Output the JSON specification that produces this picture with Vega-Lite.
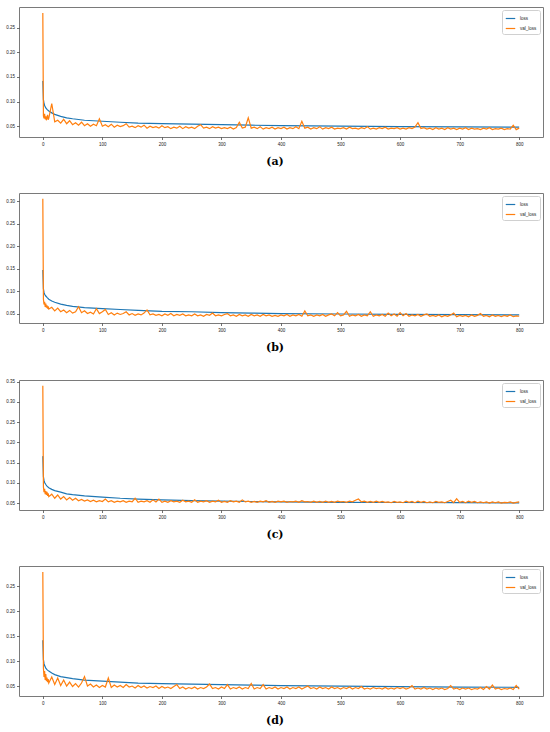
{
  "$schema": "https://vega.github.io/schema/vega-lite/v6.json",
  "padding": {"left": 5, "top": 6, "right": 5, "bottom": 2},
  "background": "white",
  "datasets": {
    "la": [
      {"e":0,"v":0.142},{"e":1,"v":0.104},{"e":2,"v":0.096},{"e":3,"v":0.092},{"e":5,"v":0.087},{"e":7,"v":0.084},{"e":10,"v":0.081},{"e":15,"v":0.077},{"e":20,"v":0.074},{"e":30,"v":0.070},{"e":40,"v":0.067},{"e":50,"v":0.065},{"e":70,"v":0.062},{"e":100,"v":0.060},{"e":130,"v":0.058},{"e":160,"v":0.056},{"e":200,"v":0.055},{"e":250,"v":0.054},{"e":300,"v":0.053},{"e":350,"v":0.052},{"e":400,"v":0.051},{"e":500,"v":0.050},{"e":600,"v":0.049},{"e":700,"v":0.0485},{"e":800,"v":0.048}
    ],
    "va": [
      {"e":0,"v":0.280},{"e":1,"v":0.071},{"e":2,"v":0.066},{"e":3,"v":0.075},{"e":4,"v":0.064},{"e":5,"v":0.070},{"e":6,"v":0.062},{"e":7,"v":0.068},{"e":8,"v":0.073},{"e":9,"v":0.063},
      {"e":10,"v":0.066},{"e":15,"v":0.096},{"e":20,"v":0.059},{"e":25,"v":0.062},{"e":30,"v":0.056},{"e":35,"v":0.064},{"e":40,"v":0.055},{"e":45,"v":0.061},{"e":50,"v":0.053},{"e":55,"v":0.057},{"e":60,"v":0.052},{"e":65,"v":0.058},{"e":70,"v":0.051},{"e":75,"v":0.055},{"e":80,"v":0.050},{"e":85,"v":0.054},{"e":90,"v":0.051},{"e":95,"v":0.065},{"e":100,"v":0.050},
      {"e":105,"v":0.053},{"e":110,"v":0.049},{"e":115,"v":0.054},{"e":120,"v":0.048},{"e":125,"v":0.052},{"e":130,"v":0.049},{"e":135,"v":0.051},{"e":140,"v":0.055},{"e":145,"v":0.048},{"e":150,"v":0.050},{"e":155,"v":0.047},{"e":160,"v":0.051},{"e":165,"v":0.048},{"e":170,"v":0.052},{"e":175,"v":0.046},{"e":180,"v":0.050},{"e":185,"v":0.047},{"e":190,"v":0.049},{"e":195,"v":0.046},{"e":200,"v":0.051},
      {"e":205,"v":0.047},{"e":210,"v":0.049},{"e":215,"v":0.045},{"e":220,"v":0.048},{"e":225,"v":0.046},{"e":230,"v":0.050},{"e":235,"v":0.045},{"e":240,"v":0.049},{"e":245,"v":0.046},{"e":250,"v":0.048},{"e":255,"v":0.045},{"e":260,"v":0.050},{"e":265,"v":0.053},{"e":270,"v":0.046},{"e":275,"v":0.048},{"e":280,"v":0.045},{"e":285,"v":0.049},{"e":290,"v":0.046},{"e":295,"v":0.048},{"e":300,"v":0.045},
      {"e":305,"v":0.047},{"e":310,"v":0.045},{"e":315,"v":0.048},{"e":320,"v":0.044},{"e":325,"v":0.047},{"e":330,"v":0.058},{"e":335,"v":0.046},{"e":340,"v":0.048},{"e":345,"v":0.067},{"e":350,"v":0.046},{"e":355,"v":0.048},{"e":360,"v":0.045},{"e":365,"v":0.049},{"e":370,"v":0.044},{"e":375,"v":0.047},{"e":380,"v":0.045},{"e":385,"v":0.048},{"e":390,"v":0.044},{"e":395,"v":0.047},{"e":400,"v":0.045},
      {"e":405,"v":0.048},{"e":410,"v":0.044},{"e":415,"v":0.047},{"e":420,"v":0.045},{"e":425,"v":0.049},{"e":430,"v":0.045},{"e":435,"v":0.060},{"e":440,"v":0.046},{"e":445,"v":0.048},{"e":450,"v":0.044},{"e":455,"v":0.047},{"e":460,"v":0.045},{"e":465,"v":0.049},{"e":470,"v":0.044},{"e":475,"v":0.047},{"e":480,"v":0.045},{"e":485,"v":0.048},{"e":490,"v":0.044},{"e":495,"v":0.046},{"e":500,"v":0.045},
      {"e":505,"v":0.047},{"e":510,"v":0.044},{"e":515,"v":0.048},{"e":520,"v":0.045},{"e":525,"v":0.046},{"e":530,"v":0.044},{"e":535,"v":0.047},{"e":540,"v":0.045},{"e":545,"v":0.049},{"e":550,"v":0.044},{"e":555,"v":0.046},{"e":560,"v":0.044},{"e":565,"v":0.047},{"e":570,"v":0.045},{"e":575,"v":0.048},{"e":580,"v":0.044},{"e":585,"v":0.046},{"e":590,"v":0.045},{"e":595,"v":0.047},{"e":600,"v":0.044},
      {"e":605,"v":0.046},{"e":610,"v":0.044},{"e":615,"v":0.047},{"e":620,"v":0.045},{"e":625,"v":0.048},{"e":630,"v":0.057},{"e":635,"v":0.045},{"e":640,"v":0.047},{"e":645,"v":0.044},{"e":650,"v":0.046},{"e":655,"v":0.043},{"e":660,"v":0.047},{"e":665,"v":0.044},{"e":670,"v":0.046},{"e":675,"v":0.043},{"e":680,"v":0.047},{"e":685,"v":0.044},{"e":690,"v":0.046},{"e":695,"v":0.043},{"e":700,"v":0.046},
      {"e":705,"v":0.044},{"e":710,"v":0.047},{"e":715,"v":0.043},{"e":720,"v":0.046},{"e":725,"v":0.044},{"e":730,"v":0.045},{"e":735,"v":0.043},{"e":740,"v":0.046},{"e":745,"v":0.044},{"e":750,"v":0.047},{"e":755,"v":0.043},{"e":760,"v":0.045},{"e":765,"v":0.044},{"e":770,"v":0.046},{"e":775,"v":0.043},{"e":780,"v":0.045},{"e":785,"v":0.044},{"e":790,"v":0.052},{"e":795,"v":0.043},{"e":800,"v":0.046}
    ],
    "lb": [
      {"e":0,"v":0.147},{"e":1,"v":0.105},{"e":2,"v":0.097},{"e":3,"v":0.093},{"e":5,"v":0.089},{"e":7,"v":0.086},{"e":10,"v":0.082},{"e":15,"v":0.078},{"e":20,"v":0.075},{"e":30,"v":0.071},{"e":40,"v":0.068},{"e":50,"v":0.066},{"e":70,"v":0.063},{"e":100,"v":0.061},{"e":130,"v":0.059},{"e":160,"v":0.057},{"e":200,"v":0.055},{"e":250,"v":0.054},{"e":300,"v":0.052},{"e":350,"v":0.051},{"e":400,"v":0.050},{"e":500,"v":0.049},{"e":600,"v":0.048},{"e":700,"v":0.0475},{"e":800,"v":0.047}
    ],
    "vb": [
      {"e":0,"v":0.305},{"e":1,"v":0.082},{"e":2,"v":0.070},{"e":3,"v":0.076},{"e":4,"v":0.065},{"e":5,"v":0.072},{"e":6,"v":0.063},{"e":7,"v":0.068},{"e":8,"v":0.061},{"e":9,"v":0.066},
      {"e":10,"v":0.060},{"e":15,"v":0.064},{"e":20,"v":0.056},{"e":25,"v":0.062},{"e":30,"v":0.054},{"e":35,"v":0.058},{"e":40,"v":0.052},{"e":45,"v":0.057},{"e":50,"v":0.051},{"e":55,"v":0.054},{"e":60,"v":0.065},{"e":65,"v":0.052},{"e":70,"v":0.056},{"e":75,"v":0.050},{"e":80,"v":0.053},{"e":85,"v":0.049},{"e":90,"v":0.061},{"e":95,"v":0.050},{"e":100,"v":0.054},
      {"e":105,"v":0.059},{"e":110,"v":0.048},{"e":115,"v":0.052},{"e":120,"v":0.047},{"e":125,"v":0.051},{"e":130,"v":0.048},{"e":135,"v":0.050},{"e":140,"v":0.054},{"e":145,"v":0.047},{"e":150,"v":0.050},{"e":155,"v":0.046},{"e":160,"v":0.049},{"e":165,"v":0.047},{"e":170,"v":0.051},{"e":175,"v":0.058},{"e":180,"v":0.047},{"e":185,"v":0.049},{"e":190,"v":0.046},{"e":195,"v":0.048},{"e":200,"v":0.045},
      {"e":205,"v":0.049},{"e":210,"v":0.046},{"e":215,"v":0.050},{"e":220,"v":0.045},{"e":225,"v":0.048},{"e":230,"v":0.046},{"e":235,"v":0.049},{"e":240,"v":0.045},{"e":245,"v":0.047},{"e":250,"v":0.045},{"e":255,"v":0.049},{"e":260,"v":0.045},{"e":265,"v":0.047},{"e":270,"v":0.044},{"e":275,"v":0.048},{"e":280,"v":0.046},{"e":285,"v":0.051},{"e":290,"v":0.045},{"e":295,"v":0.047},{"e":300,"v":0.045},
      {"e":305,"v":0.048},{"e":310,"v":0.050},{"e":315,"v":0.045},{"e":320,"v":0.047},{"e":325,"v":0.044},{"e":330,"v":0.048},{"e":335,"v":0.045},{"e":340,"v":0.047},{"e":345,"v":0.044},{"e":350,"v":0.048},{"e":355,"v":0.045},{"e":360,"v":0.047},{"e":365,"v":0.044},{"e":370,"v":0.048},{"e":375,"v":0.045},{"e":380,"v":0.047},{"e":385,"v":0.044},{"e":390,"v":0.046},{"e":395,"v":0.044},{"e":400,"v":0.047},
      {"e":405,"v":0.045},{"e":410,"v":0.048},{"e":415,"v":0.044},{"e":420,"v":0.047},{"e":425,"v":0.045},{"e":430,"v":0.048},{"e":435,"v":0.044},{"e":440,"v":0.056},{"e":445,"v":0.045},{"e":450,"v":0.047},{"e":455,"v":0.044},{"e":460,"v":0.047},{"e":465,"v":0.045},{"e":470,"v":0.048},{"e":475,"v":0.044},{"e":480,"v":0.047},{"e":485,"v":0.049},{"e":490,"v":0.045},{"e":495,"v":0.052},{"e":500,"v":0.045},
      {"e":505,"v":0.047},{"e":510,"v":0.055},{"e":515,"v":0.044},{"e":520,"v":0.047},{"e":525,"v":0.045},{"e":530,"v":0.048},{"e":535,"v":0.044},{"e":540,"v":0.047},{"e":545,"v":0.045},{"e":550,"v":0.054},{"e":555,"v":0.044},{"e":560,"v":0.047},{"e":565,"v":0.045},{"e":570,"v":0.048},{"e":575,"v":0.044},{"e":580,"v":0.051},{"e":585,"v":0.045},{"e":590,"v":0.049},{"e":595,"v":0.044},{"e":600,"v":0.052},
      {"e":605,"v":0.045},{"e":610,"v":0.050},{"e":615,"v":0.044},{"e":620,"v":0.047},{"e":625,"v":0.045},{"e":630,"v":0.048},{"e":635,"v":0.044},{"e":640,"v":0.047},{"e":645,"v":0.049},{"e":650,"v":0.044},{"e":655,"v":0.046},{"e":660,"v":0.044},{"e":665,"v":0.047},{"e":670,"v":0.043},{"e":675,"v":0.046},{"e":680,"v":0.044},{"e":685,"v":0.047},{"e":690,"v":0.051},{"e":695,"v":0.043},{"e":700,"v":0.046},
      {"e":705,"v":0.044},{"e":710,"v":0.046},{"e":715,"v":0.043},{"e":720,"v":0.047},{"e":725,"v":0.044},{"e":730,"v":0.046},{"e":735,"v":0.050},{"e":740,"v":0.044},{"e":745,"v":0.046},{"e":750,"v":0.043},{"e":755,"v":0.047},{"e":760,"v":0.044},{"e":765,"v":0.046},{"e":770,"v":0.043},{"e":775,"v":0.046},{"e":780,"v":0.044},{"e":785,"v":0.047},{"e":790,"v":0.043},{"e":795,"v":0.045},{"e":800,"v":0.044}
    ],
    "lc": [
      {"e":0,"v":0.166},{"e":1,"v":0.115},{"e":2,"v":0.106},{"e":3,"v":0.101},{"e":5,"v":0.096},{"e":7,"v":0.092},{"e":10,"v":0.088},{"e":15,"v":0.084},{"e":20,"v":0.081},{"e":30,"v":0.077},{"e":40,"v":0.073},{"e":50,"v":0.071},{"e":70,"v":0.068},{"e":100,"v":0.065},{"e":130,"v":0.062},{"e":160,"v":0.060},{"e":200,"v":0.058},{"e":250,"v":0.056},{"e":300,"v":0.055},{"e":350,"v":0.054},{"e":400,"v":0.053},{"e":500,"v":0.052},{"e":600,"v":0.0515},{"e":700,"v":0.051},{"e":800,"v":0.0505}
    ],
    "vc": [
      {"e":0,"v":0.340},{"e":1,"v":0.090},{"e":2,"v":0.077},{"e":3,"v":0.085},{"e":4,"v":0.072},{"e":5,"v":0.080},{"e":6,"v":0.070},{"e":7,"v":0.078},{"e":8,"v":0.068},{"e":9,"v":0.074},
      {"e":10,"v":0.066},{"e":15,"v":0.072},{"e":20,"v":0.062},{"e":25,"v":0.070},{"e":30,"v":0.060},{"e":35,"v":0.066},{"e":40,"v":0.058},{"e":45,"v":0.064},{"e":50,"v":0.057},{"e":55,"v":0.062},{"e":60,"v":0.056},{"e":65,"v":0.059},{"e":70,"v":0.055},{"e":75,"v":0.058},{"e":80,"v":0.054},{"e":85,"v":0.057},{"e":90,"v":0.053},{"e":95,"v":0.056},{"e":100,"v":0.054},
      {"e":105,"v":0.060},{"e":110,"v":0.053},{"e":115,"v":0.056},{"e":120,"v":0.052},{"e":125,"v":0.055},{"e":130,"v":0.053},{"e":135,"v":0.056},{"e":140,"v":0.052},{"e":145,"v":0.055},{"e":150,"v":0.053},{"e":155,"v":0.062},{"e":160,"v":0.052},{"e":165,"v":0.055},{"e":170,"v":0.053},{"e":175,"v":0.056},{"e":180,"v":0.052},{"e":185,"v":0.058},{"e":190,"v":0.053},{"e":195,"v":0.060},{"e":200,"v":0.052},
      {"e":205,"v":0.055},{"e":210,"v":0.052},{"e":215,"v":0.056},{"e":220,"v":0.053},{"e":225,"v":0.055},{"e":230,"v":0.052},{"e":235,"v":0.057},{"e":240,"v":0.053},{"e":245,"v":0.055},{"e":250,"v":0.052},{"e":255,"v":0.058},{"e":260,"v":0.052},{"e":265,"v":0.055},{"e":270,"v":0.053},{"e":275,"v":0.056},{"e":280,"v":0.052},{"e":285,"v":0.055},{"e":290,"v":0.053},{"e":295,"v":0.057},{"e":300,"v":0.052},
      {"e":305,"v":0.054},{"e":310,"v":0.052},{"e":315,"v":0.056},{"e":320,"v":0.053},{"e":325,"v":0.055},{"e":330,"v":0.052},{"e":335,"v":0.058},{"e":340,"v":0.053},{"e":345,"v":0.055},{"e":350,"v":0.052},{"e":355,"v":0.054},{"e":360,"v":0.052},{"e":365,"v":0.055},{"e":370,"v":0.053},{"e":375,"v":0.056},{"e":380,"v":0.052},{"e":385,"v":0.054},{"e":390,"v":0.052},{"e":395,"v":0.055},{"e":400,"v":0.053},
      {"e":405,"v":0.055},{"e":410,"v":0.052},{"e":415,"v":0.054},{"e":420,"v":0.053},{"e":425,"v":0.055},{"e":430,"v":0.052},{"e":435,"v":0.056},{"e":440,"v":0.053},{"e":445,"v":0.054},{"e":450,"v":0.052},{"e":455,"v":0.055},{"e":460,"v":0.052},{"e":465,"v":0.054},{"e":470,"v":0.052},{"e":475,"v":0.055},{"e":480,"v":0.052},{"e":485,"v":0.054},{"e":490,"v":0.052},{"e":495,"v":0.055},{"e":500,"v":0.053},
      {"e":505,"v":0.054},{"e":510,"v":0.052},{"e":515,"v":0.055},{"e":520,"v":0.053},{"e":525,"v":0.057},{"e":530,"v":0.060},{"e":535,"v":0.053},{"e":540,"v":0.055},{"e":545,"v":0.052},{"e":550,"v":0.054},{"e":555,"v":0.052},{"e":560,"v":0.055},{"e":565,"v":0.052},{"e":570,"v":0.054},{"e":575,"v":0.052},{"e":580,"v":0.053},{"e":585,"v":0.051},{"e":590,"v":0.054},{"e":595,"v":0.052},{"e":600,"v":0.053},
      {"e":605,"v":0.051},{"e":610,"v":0.055},{"e":615,"v":0.052},{"e":620,"v":0.054},{"e":625,"v":0.051},{"e":630,"v":0.055},{"e":635,"v":0.052},{"e":640,"v":0.054},{"e":645,"v":0.051},{"e":650,"v":0.053},{"e":655,"v":0.051},{"e":660,"v":0.054},{"e":665,"v":0.052},{"e":670,"v":0.053},{"e":675,"v":0.051},{"e":680,"v":0.054},{"e":685,"v":0.057},{"e":690,"v":0.051},{"e":695,"v":0.061},{"e":700,"v":0.052},
      {"e":705,"v":0.054},{"e":710,"v":0.051},{"e":715,"v":0.055},{"e":720,"v":0.052},{"e":725,"v":0.054},{"e":730,"v":0.051},{"e":735,"v":0.053},{"e":740,"v":0.051},{"e":745,"v":0.053},{"e":750,"v":0.050},{"e":755,"v":0.053},{"e":760,"v":0.051},{"e":765,"v":0.053},{"e":770,"v":0.050},{"e":775,"v":0.052},{"e":780,"v":0.051},{"e":785,"v":0.053},{"e":790,"v":0.050},{"e":795,"v":0.052},{"e":800,"v":0.053}
    ],
    "ld": [
      {"e":0,"v":0.142},{"e":1,"v":0.103},{"e":2,"v":0.095},{"e":3,"v":0.091},{"e":5,"v":0.086},{"e":7,"v":0.083},{"e":10,"v":0.080},{"e":15,"v":0.076},{"e":20,"v":0.073},{"e":30,"v":0.069},{"e":40,"v":0.067},{"e":50,"v":0.065},{"e":70,"v":0.062},{"e":100,"v":0.060},{"e":130,"v":0.058},{"e":160,"v":0.056},{"e":200,"v":0.055},{"e":250,"v":0.054},{"e":300,"v":0.053},{"e":350,"v":0.052},{"e":400,"v":0.051},{"e":500,"v":0.050},{"e":600,"v":0.049},{"e":700,"v":0.048},{"e":800,"v":0.0475}
    ],
    "vd": [
      {"e":0,"v":0.279},{"e":1,"v":0.086},{"e":2,"v":0.068},{"e":3,"v":0.080},{"e":4,"v":0.062},{"e":5,"v":0.074},{"e":6,"v":0.060},{"e":7,"v":0.067},{"e":8,"v":0.058},{"e":9,"v":0.064},
      {"e":10,"v":0.056},{"e":15,"v":0.068},{"e":20,"v":0.053},{"e":25,"v":0.066},{"e":30,"v":0.051},{"e":35,"v":0.062},{"e":40,"v":0.050},{"e":45,"v":0.058},{"e":50,"v":0.049},{"e":55,"v":0.055},{"e":60,"v":0.048},{"e":65,"v":0.056},{"e":70,"v":0.069},{"e":75,"v":0.050},{"e":80,"v":0.054},{"e":85,"v":0.048},{"e":90,"v":0.052},{"e":95,"v":0.047},{"e":100,"v":0.051},
      {"e":105,"v":0.048},{"e":110,"v":0.066},{"e":115,"v":0.047},{"e":120,"v":0.052},{"e":125,"v":0.048},{"e":130,"v":0.051},{"e":135,"v":0.047},{"e":140,"v":0.053},{"e":145,"v":0.048},{"e":150,"v":0.050},{"e":155,"v":0.046},{"e":160,"v":0.051},{"e":165,"v":0.047},{"e":170,"v":0.050},{"e":175,"v":0.046},{"e":180,"v":0.049},{"e":185,"v":0.047},{"e":190,"v":0.050},{"e":195,"v":0.045},{"e":200,"v":0.049},
      {"e":205,"v":0.046},{"e":210,"v":0.048},{"e":215,"v":0.045},{"e":220,"v":0.049},{"e":225,"v":0.053},{"e":230,"v":0.045},{"e":235,"v":0.048},{"e":240,"v":0.044},{"e":245,"v":0.047},{"e":250,"v":0.045},{"e":255,"v":0.048},{"e":260,"v":0.044},{"e":265,"v":0.047},{"e":270,"v":0.045},{"e":275,"v":0.048},{"e":280,"v":0.054},{"e":285,"v":0.045},{"e":290,"v":0.047},{"e":295,"v":0.044},{"e":300,"v":0.048},
      {"e":305,"v":0.045},{"e":310,"v":0.053},{"e":315,"v":0.044},{"e":320,"v":0.047},{"e":325,"v":0.045},{"e":330,"v":0.048},{"e":335,"v":0.044},{"e":340,"v":0.047},{"e":345,"v":0.045},{"e":350,"v":0.055},{"e":355,"v":0.044},{"e":360,"v":0.047},{"e":365,"v":0.045},{"e":370,"v":0.053},{"e":375,"v":0.044},{"e":380,"v":0.047},{"e":385,"v":0.045},{"e":390,"v":0.048},{"e":395,"v":0.044},{"e":400,"v":0.047},
      {"e":405,"v":0.045},{"e":410,"v":0.048},{"e":415,"v":0.044},{"e":420,"v":0.047},{"e":425,"v":0.045},{"e":430,"v":0.048},{"e":435,"v":0.044},{"e":440,"v":0.047},{"e":445,"v":0.050},{"e":450,"v":0.045},{"e":455,"v":0.047},{"e":460,"v":0.044},{"e":465,"v":0.048},{"e":470,"v":0.045},{"e":475,"v":0.047},{"e":480,"v":0.044},{"e":485,"v":0.048},{"e":490,"v":0.045},{"e":495,"v":0.047},{"e":500,"v":0.044},
      {"e":505,"v":0.047},{"e":510,"v":0.045},{"e":515,"v":0.048},{"e":520,"v":0.044},{"e":525,"v":0.047},{"e":530,"v":0.045},{"e":535,"v":0.049},{"e":540,"v":0.044},{"e":545,"v":0.046},{"e":550,"v":0.044},{"e":555,"v":0.047},{"e":560,"v":0.045},{"e":565,"v":0.046},{"e":570,"v":0.044},{"e":575,"v":0.047},{"e":580,"v":0.044},{"e":585,"v":0.046},{"e":590,"v":0.044},{"e":595,"v":0.047},{"e":600,"v":0.045},
      {"e":605,"v":0.047},{"e":610,"v":0.044},{"e":615,"v":0.046},{"e":620,"v":0.051},{"e":625,"v":0.044},{"e":630,"v":0.046},{"e":635,"v":0.044},{"e":640,"v":0.047},{"e":645,"v":0.044},{"e":650,"v":0.046},{"e":655,"v":0.043},{"e":660,"v":0.046},{"e":665,"v":0.044},{"e":670,"v":0.046},{"e":675,"v":0.043},{"e":680,"v":0.045},{"e":685,"v":0.051},{"e":690,"v":0.044},{"e":695,"v":0.046},{"e":700,"v":0.043},
      {"e":705,"v":0.046},{"e":710,"v":0.044},{"e":715,"v":0.046},{"e":720,"v":0.043},{"e":725,"v":0.045},{"e":730,"v":0.044},{"e":735,"v":0.047},{"e":740,"v":0.043},{"e":745,"v":0.049},{"e":750,"v":0.044},{"e":755,"v":0.052},{"e":760,"v":0.044},{"e":765,"v":0.046},{"e":770,"v":0.043},{"e":775,"v":0.045},{"e":780,"v":0.044},{"e":785,"v":0.046},{"e":790,"v":0.043},{"e":795,"v":0.051},{"e":800,"v":0.044}
    ]
  },
  "spacing": 24,
  "resolve": {"scale": {"color": "independent"}},
  "vconcat": [
    {
      "width": 524,
      "height": 130,
      "title": {"text": "(a)"},
      "encoding": {
        "x": {"field": "e", "type": "quantitative", "title": null, "scale": {"domain": [-40, 840], "nice": false}, "axis": {"values": [0, 100, 200, 300, 400, 500, 600, 700, 800]}},
        "y": {"field": "v", "type": "quantitative", "title": null, "scale": {"domain": [0.028, 0.292], "nice": false, "zero": false}, "axis": {"values": [0.05, 0.1, 0.15, 0.2, 0.25], "format": ".2f"}}
      },
      "layer": [
        {"data": {"name": "la"}, "mark": {"type": "line", "strokeWidth": 1.2}, "encoding": {"color": {"datum": "loss", "scale": {"domain": ["loss", "val_loss"], "range": ["#1f77b4", "#ff7f0e"]}}}},
        {"data": {"name": "va"}, "mark": {"type": "line", "strokeWidth": 1.2}, "encoding": {"color": {"datum": "val_loss"}}}
      ]
    },
    {
      "width": 524,
      "height": 130,
      "title": {"text": "(b)"},
      "encoding": {
        "x": {"field": "e", "type": "quantitative", "title": null, "scale": {"domain": [-40, 840], "nice": false}, "axis": {"values": [0, 100, 200, 300, 400, 500, 600, 700, 800]}},
        "y": {"field": "v", "type": "quantitative", "title": null, "scale": {"domain": [0.029, 0.318], "nice": false, "zero": false}, "axis": {"values": [0.05, 0.1, 0.15, 0.2, 0.25, 0.3], "format": ".2f"}}
      },
      "layer": [
        {"data": {"name": "lb"}, "mark": {"type": "line", "strokeWidth": 1.2}, "encoding": {"color": {"datum": "loss", "scale": {"domain": ["loss", "val_loss"], "range": ["#1f77b4", "#ff7f0e"]}}}},
        {"data": {"name": "vb"}, "mark": {"type": "line", "strokeWidth": 1.2}, "encoding": {"color": {"datum": "val_loss"}}}
      ]
    },
    {
      "width": 524,
      "height": 130,
      "title": {"text": "(c)"},
      "encoding": {
        "x": {"field": "e", "type": "quantitative", "title": null, "scale": {"domain": [-40, 840], "nice": false}, "axis": {"values": [0, 100, 200, 300, 400, 500, 600, 700, 800]}},
        "y": {"field": "v", "type": "quantitative", "title": null, "scale": {"domain": [0.033, 0.354], "nice": false, "zero": false}, "axis": {"values": [0.05, 0.1, 0.15, 0.2, 0.25, 0.3, 0.35], "format": ".2f"}}
      },
      "layer": [
        {"data": {"name": "lc"}, "mark": {"type": "line", "strokeWidth": 1.2}, "encoding": {"color": {"datum": "loss", "scale": {"domain": ["loss", "val_loss"], "range": ["#1f77b4", "#ff7f0e"]}}}},
        {"data": {"name": "vc"}, "mark": {"type": "line", "strokeWidth": 1.2}, "encoding": {"color": {"datum": "val_loss"}}}
      ]
    },
    {
      "width": 524,
      "height": 130,
      "title": {"text": "(d)"},
      "encoding": {
        "x": {"field": "e", "type": "quantitative", "title": null, "scale": {"domain": [-40, 840], "nice": false}, "axis": {"values": [0, 100, 200, 300, 400, 500, 600, 700, 800]}},
        "y": {"field": "v", "type": "quantitative", "title": null, "scale": {"domain": [0.03, 0.291], "nice": false, "zero": false}, "axis": {"values": [0.05, 0.1, 0.15, 0.2, 0.25], "format": ".2f"}}
      },
      "layer": [
        {"data": {"name": "ld"}, "mark": {"type": "line", "strokeWidth": 1.2}, "encoding": {"color": {"datum": "loss", "scale": {"domain": ["loss", "val_loss"], "range": ["#1f77b4", "#ff7f0e"]}}}},
        {"data": {"name": "vd"}, "mark": {"type": "line", "strokeWidth": 1.2}, "encoding": {"color": {"datum": "val_loss"}}}
      ]
    }
  ],
  "config": {
    "view": {"stroke": "#7a7a7a", "strokeWidth": 1},
    "axis": {
      "grid": false,
      "domain": false,
      "ticks": true,
      "tickSize": 2.5,
      "tickColor": "#333",
      "tickWidth": 0.7,
      "labelFont": "Liberation Sans",
      "labelFontSize": 4.5,
      "labelColor": "#222",
      "labelPadding": 2
    },
    "legend": {
      "orient": "top-right",
      "offset": 3,
      "title": null,
      "labelFont": "Liberation Sans",
      "labelFontSize": 4.5,
      "labelColor": "#222",
      "symbolType": "stroke",
      "symbolStrokeWidth": 1.2,
      "symbolSize": 90,
      "strokeColor": "#d0d0d0",
      "fillColor": "white",
      "padding": 3,
      "rowPadding": 2,
      "cornerRadius": 2
    },
    "title": {
      "orient": "bottom",
      "anchor": "middle",
      "font": "DejaVu Serif",
      "fontSize": 11,
      "fontWeight": "bold",
      "color": "#000",
      "offset": 10,
      "dx": -6
    }
  }
}
